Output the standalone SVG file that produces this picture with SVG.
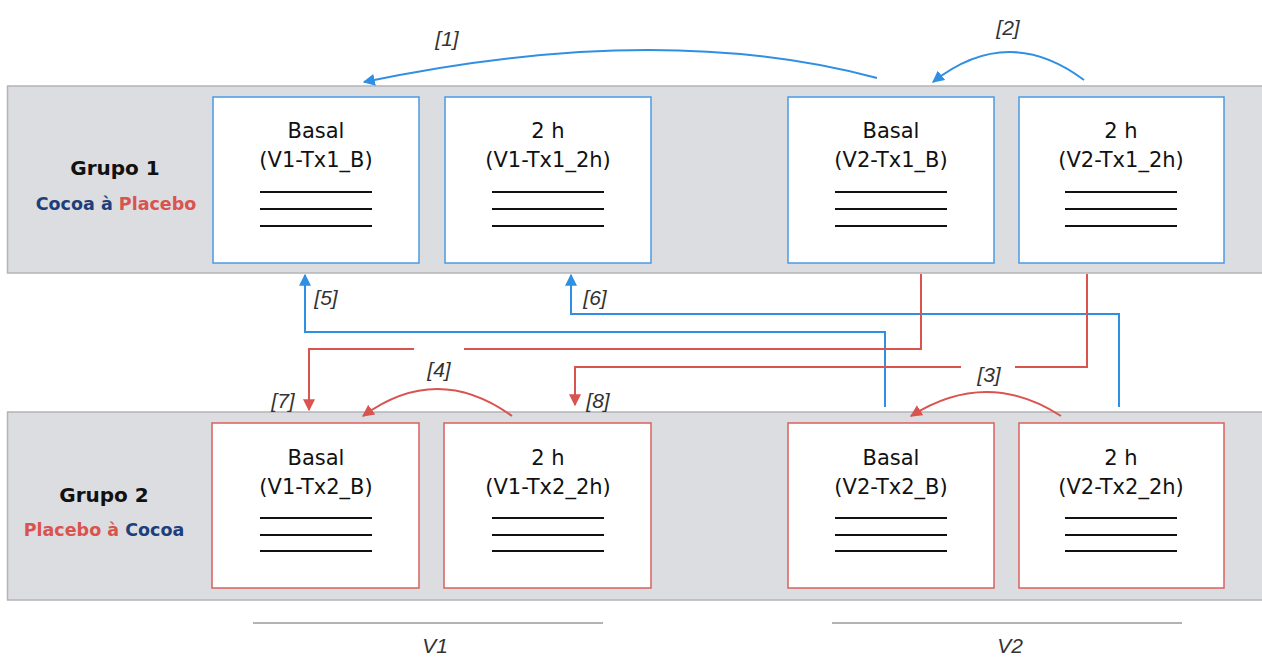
<svg xmlns="http://www.w3.org/2000/svg" width="1262" height="657" viewBox="0 0 1262 657">
<style>
.band{fill:#dcdde0;stroke:#b3b4b6;stroke-width:1.5}
.bbox{fill:#fff;stroke:#4b9be3;stroke-width:1.5}
.rbox{fill:#fff;stroke:#d9605c;stroke-width:1.5}
.t{font-family:"DejaVu Sans",sans-serif;font-size:21px;fill:#111;text-anchor:middle}
.g{font-family:"DejaVu Sans",sans-serif;font-size:20px;font-weight:bold;fill:#111;text-anchor:middle}
.s{font-family:"DejaVu Sans",sans-serif;font-size:17.5px;font-weight:bold;text-anchor:middle}
.ln{stroke:#111;stroke-width:2}
.blue{fill:none;stroke:#2f8fe3;stroke-width:2}
.red{fill:none;stroke:#d9534f;stroke-width:2}
.lab{font-family:"Liberation Sans",sans-serif;font-style:italic;font-size:21px;fill:#333;text-anchor:middle}
.axis{stroke:#9a9a9a;stroke-width:1.5}
</style>
<defs>
<marker id="ab" viewBox="0 0 10 10" refX="9" refY="5" markerWidth="6" markerHeight="6" markerUnits="strokeWidth" orient="auto"><path d="M0,0 L10,5 L0,10 z" fill="#2f8fe3"/></marker>
<marker id="ar" viewBox="0 0 10 10" refX="9" refY="5" markerWidth="6" markerHeight="6" markerUnits="strokeWidth" orient="auto"><path d="M0,0 L10,5 L0,10 z" fill="#d9534f"/></marker>
</defs>
<rect class="band" x="7.5" y="86" width="1262" height="187"/>
<rect class="band" x="7.5" y="412" width="1262" height="188"/>

<g id="grupo1">
<text class="g" x="115" y="175">Grupo 1</text>
<text class="s" x="116" y="210"><tspan fill="#1c3f7c">Cocoa</tspan><tspan fill="#1c3f7c"> à </tspan><tspan fill="#d9534f">Placebo</tspan></text>
</g>
<g id="grupo2">
<text class="g" x="104" y="502">Grupo 2</text>
<text class="s" x="104" y="536"><tspan fill="#d9534f">Placebo</tspan><tspan fill="#d9534f"> à </tspan><tspan fill="#1c3f7c">Cocoa</tspan></text>
</g>

<g id="V1-Tx1_B">
<rect class="bbox" x="213" y="97" width="206" height="166"/>
<text class="t" x="316" y="138">Basal</text><text class="t" x="316" y="167">(V1-Tx1_B)</text>
<path class="ln" d="M260 192H372M260 209H372M260 226H372"/>
</g>
<g id="V1-Tx1_2h">
<rect class="bbox" x="445" y="97" width="206" height="166"/>
<text class="t" x="548" y="138">2 h</text><text class="t" x="548" y="167">(V1-Tx1_2h)</text>
<path class="ln" d="M492 192H604M492 209H604M492 226H604"/>
</g>
<g id="V2-Tx1_B">
<rect class="bbox" x="788" y="97" width="206" height="166"/>
<text class="t" x="891" y="138">Basal</text><text class="t" x="891" y="167">(V2-Tx1_B)</text>
<path class="ln" d="M835 192H947M835 209H947M835 226H947"/>
</g>
<g id="V2-Tx1_2h">
<rect class="bbox" x="1019" y="97" width="205" height="166"/>
<text class="t" x="1121" y="138">2 h</text><text class="t" x="1121" y="167">(V2-Tx1_2h)</text>
<path class="ln" d="M1065 192H1177M1065 209H1177M1065 226H1177"/>
</g>

<g id="V1-Tx2_B">
<rect class="rbox" x="212" y="423" width="207" height="165"/>
<text class="t" x="316" y="465">Basal</text><text class="t" x="316" y="494">(V1-Tx2_B)</text>
<path class="ln" d="M260 518H372M260 535H372M260 551H372"/>
</g>
<g id="V1-Tx2_2h">
<rect class="rbox" x="444" y="423" width="207" height="165"/>
<text class="t" x="548" y="465">2 h</text><text class="t" x="548" y="494">(V1-Tx2_2h)</text>
<path class="ln" d="M492 518H604M492 535H604M492 551H604"/>
</g>
<g id="V2-Tx2_B">
<rect class="rbox" x="788" y="423" width="206" height="165"/>
<text class="t" x="891" y="465">Basal</text><text class="t" x="891" y="494">(V2-Tx2_B)</text>
<path class="ln" d="M835 518H947M835 535H947M835 551H947"/>
</g>
<g id="V2-Tx2_2h">
<rect class="rbox" x="1019" y="423" width="205" height="165"/>
<text class="t" x="1121" y="465">2 h</text><text class="t" x="1121" y="494">(V2-Tx2_2h)</text>
<path class="ln" d="M1065 518H1177M1065 535H1177M1065 551H1177"/>
</g>

<g id="connectors">
<path class="blue" d="M877 78 Q660 20 364 82" marker-end="url(#ab)"/>
<text class="lab" x="447" y="46">[1]</text>
<path class="blue" d="M1084 80 Q1008 23 933 82" marker-end="url(#ab)"/>
<text class="lab" x="1008" y="35">[2]</text>
<path class="red" d="M1061 416 Q987 368 911 416" marker-end="url(#ar)"/>
<text class="lab" x="989" y="382">[3]</text>
<path class="red" d="M512 416 Q437 362 363 416" marker-end="url(#ar)"/>
<text class="lab" x="439" y="377">[4]</text>
<path class="blue" d="M885 407V332H305V275" marker-end="url(#ab)"/>
<text class="lab" x="326" y="305">[5]</text>
<path class="blue" d="M1119 407V314H571V275" marker-end="url(#ab)"/>
<text class="lab" x="595" y="305">[6]</text>
<path class="red" d="M921 274V349H464M414 349H309V410" marker-end="url(#ar)"/>
<text class="lab" x="283" y="408">[7]</text>
<path class="red" d="M1087 274V367H1015M961 367H575V405" marker-end="url(#ar)"/>
<text class="lab" x="598" y="408">[8]</text>
</g>

<g id="axis">
<line class="axis" x1="253" y1="623" x2="603" y2="623"/>
<text class="lab" x="435" y="653" fill="#444">V1</text>
<line class="axis" x1="832" y1="623" x2="1182" y2="623"/>
<text class="lab" x="1010" y="653" fill="#444">V2</text>
</g>
</svg>
